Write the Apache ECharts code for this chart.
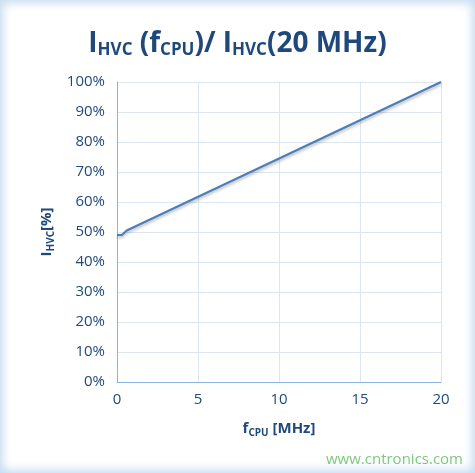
<!DOCTYPE html>
<html><head><meta charset="utf-8">
<script src="https://cdn.jsdelivr.net/npm/echarts@6/dist/echarts.min.js"></script>
<style>
html,body{margin:0;padding:0;background:#fff}
#c{width:475px;height:473px;box-shadow:inset 0 0 10px 3px #c5dcf0;}
</style></head><body><div id="c"></div>
<script>
const xValues=[0,0.3,0.6,20];
const yValues=[49,49,50.5,100];
const xTicks=[0,5,10,15,20];
const c=echarts.init(document.getElementById('c'));
const blue='#1f497d';
c.setOption({
 animation:false,
 title:{text:'{b|I}{s|HVC}{b| (f}{s|CPU}{b|)/ I}{s|HVC}{b|(20 MHz)}',left:'center',top:25,
  textStyle:{rich:{b:{fontSize:28,fontWeight:'bold',color:blue,fontFamily:'Open Sans'},
   s:{fontSize:17,fontWeight:'bold',color:blue,fontFamily:'Open Sans',verticalAlign:'bottom',padding:[12,0,0,0]}}}},
 grid:{left:117,right:34,top:82,bottom:91},
 xAxis:{type:'value',min:0,max:20,interval:5,
  axisLine:{lineStyle:{color:'#8db3e2'}},axisTick:{show:false},
  splitLine:{lineStyle:{color:'#dce6f2'}},
  axisLabel:{color:blue,fontSize:15,fontFamily:'Open Sans',margin:10},
  name:'{b|f}{s|CPU}{b| [MHz]}',nameLocation:'middle',nameGap:38,
  nameTextStyle:{rich:{b:{fontSize:15,fontWeight:'bold',color:blue,fontFamily:'Open Sans'},
   s:{fontSize:10,fontWeight:'bold',color:blue,fontFamily:'Open Sans',padding:[8,0,0,0]}}}},
 yAxis:{type:'value',min:0,max:100,interval:10,
  axisLine:{show:true,lineStyle:{color:'#8db3e2'}},axisTick:{show:false},
  splitLine:{lineStyle:{color:'#dce6f2'}},
  axisLabel:{formatter:'{value}%',color:blue,fontSize:15,fontFamily:'Open Sans',margin:12},
  name:'{b|I}{s|HVC}{b|[%]}',nameLocation:'middle',nameGap:60,nameRotate:90,
  nameTextStyle:{rich:{b:{fontSize:15,fontWeight:'bold',color:blue,fontFamily:'Open Sans'},
   s:{fontSize:10,fontWeight:'bold',color:blue,fontFamily:'Open Sans',padding:[8,0,0,0]}}}},
 series:[{type:'line',data:xValues.map((x,i)=>[x,yValues[i]]),showSymbol:false,
  lineStyle:{color:'#4a7ebb',width:2,shadowColor:'rgba(0,0,0,0.3)',shadowBlur:3,shadowOffsetY:2}}],
 graphic:[{type:'text',right:12,bottom:6,style:{text:'www.cntronics.com',fill:'#7ec87e',fontSize:15,fontFamily:'Open Sans'}}]
});
</script></body></html>
